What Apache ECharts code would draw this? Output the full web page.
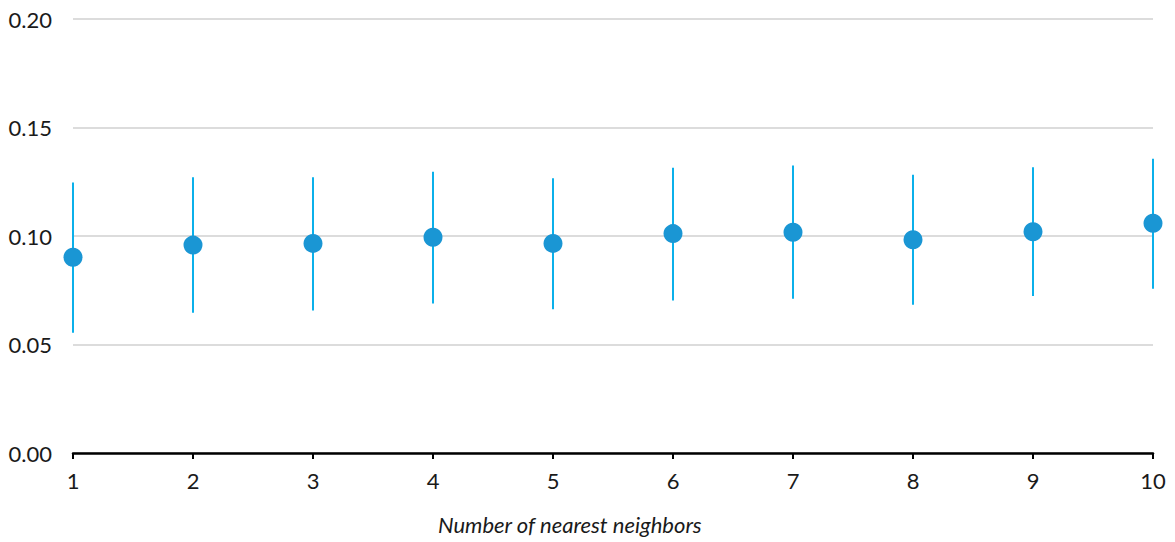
<!DOCTYPE html>
<html>
<head>
<meta charset="utf-8">
<script src="https://cdn.jsdelivr.net/npm/echarts@6/dist/echarts.min.js"></script>
<style>
  html, body { margin: 0; padding: 0; background: #fff; }
  #chart { width: 1175px; height: 542px; }
</style>
</head>
<body>
<div id="chart"></div>
<script>
// Number of nearest neighbors (k)
const neighbors = [1, 2, 3, 4, 5, 6, 7, 8, 9, 10];
// Point estimate for each k
const estimate = [0.0902, 0.0958, 0.0966, 0.0994, 0.0966, 0.1011, 0.1017, 0.0983, 0.1020, 0.1059];
// Interval bounds for each k
const lower = [0.0554, 0.0646, 0.0657, 0.0689, 0.0662, 0.0703, 0.0711, 0.0683, 0.0723, 0.0757];
const upper = [0.1246, 0.1271, 0.1271, 0.1296, 0.1266, 0.1315, 0.1325, 0.1282, 0.1317, 0.1356];
const yTicks = [0, 0.05, 0.10, 0.15, 0.20];

const font = 'Lato, "Open Sans", sans-serif';
const chart = echarts.init(document.getElementById('chart'), null, { renderer: 'svg' });

chart.setOption({
  animation: false,
  grid: { left: 73, right: 22, top: 19, bottom: 89, containLabel: false },
  xAxis: {
    type: 'value',
    min: 1, max: 10, interval: 1,
    axisLine: { show: true, lineStyle: { color: '#000', width: 2.5 } },
    axisTick: { show: true, length: 6, lineStyle: { color: '#000', width: 2 } },
    axisLabel: { color: '#1a1a1a', fontFamily: font, fontSize: 22, margin: 16 },
    splitLine: { show: false }
  },
  yAxis: {
    type: 'value',
    min: yTicks[0], max: yTicks[yTicks.length - 1], interval: 0.05,
    axisLine: { show: false },
    axisTick: { show: false },
    axisLabel: {
      color: '#1a1a1a', fontFamily: font, fontSize: 22, margin: 21,
      formatter: v => v.toFixed(2)
    },
    splitLine: { show: true, lineStyle: { color: '#dcdcdc', width: 2 } }
  },
  graphic: [{
    type: 'text',
    left: 438, top: 513,
    style: {
      text: 'Number of nearest neighbors',
      fontFamily: font,
      fontStyle: 'italic',
      fontSize: 22,
      fill: '#1a1a1a'
    }
  }],
  series: [
    {
      type: 'custom',
      name: 'interval',
      data: neighbors.map((k, i) => [k, lower[i], upper[i]]),
      renderItem: (params, api) => {
        const lo = api.coord([api.value(0), api.value(1)]);
        const hi = api.coord([api.value(0), api.value(2)]);
        return {
          type: 'line',
          shape: { x1: lo[0], y1: lo[1], x2: hi[0], y2: hi[1] },
          style: { stroke: '#0bb0ea', lineWidth: 2 }
        };
      },
      z: 2
    },
    {
      type: 'scatter',
      name: 'estimate',
      data: neighbors.map((k, i) => [k, estimate[i]]),
      symbol: 'circle',
      symbolSize: 19,
      itemStyle: { color: '#1a96d4', opacity: 1 },
      z: 3
    }
  ]
});
</script>
</body>
</html>
